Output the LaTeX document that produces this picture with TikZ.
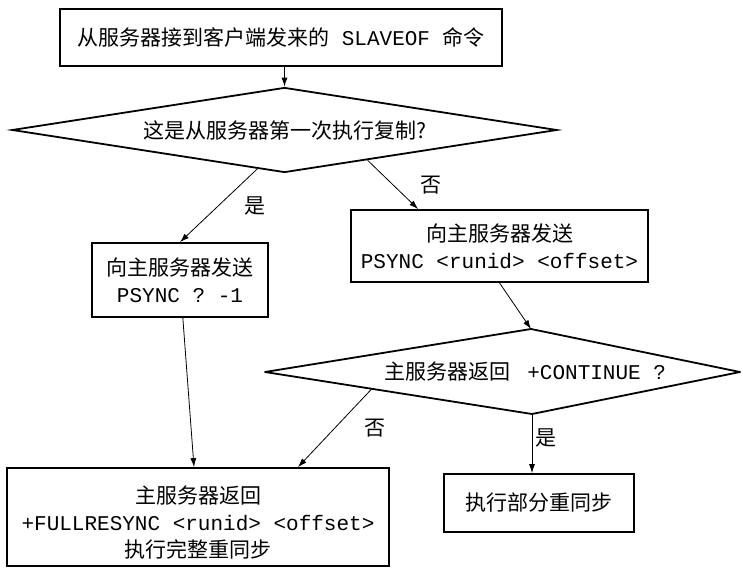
\documentclass[tikz,border=0pt]{standalone}
\usepackage{fontspec}
\setmainfont{Noto Sans CJK SC}
\setmonofont{Liberation Mono}
\usepackage{tikz}
\usetikzlibrary{arrows.meta, shapes.geometric, calc}

\begin{document}
\begin{tikzpicture}[x=1pt, y=-1pt, font=\fontsize{21}{27}\selectfont,
            box/.style = {draw, line width=1.8pt, align=center, inner sep=0pt},
            cond/.style = {draw, diamond, aspect=6.4, line width=1.8pt, inner sep=2pt},
            arr/.style = {-{Latex[length=9pt,width=6pt]}, line width=0.8pt}]
            \useasboundingbox (0,0) rectangle (743,567);

            \node[box, minimum width=442pt, minimum height=57pt] (Slaveof) at (281,37.5) {从服务器接到客户端发来的\texttt{ SLAVEOF }命令};
            \node[cond, minimum width=545pt, minimum height=85pt] (First) at (284.5,130) {这是从服务器第一次执行复制?};

            \node[box, minimum width=176pt, minimum height=74pt] (PsyncFull) at (180,280) {向主服务器发送\\\texttt{PSYNC ? -1}};
            \node[box, minimum width=297pt, minimum height=72pt] (PsyncPart) at (499.5,246) {向主服务器发送\\\texttt{PSYNC <runid> <offset>}};

            % second test is drawn as a kite
            \coordinate (ContW) at (265,372);
            \coordinate (ContN) at (531,329);
            \coordinate (ContE) at (740,372);
            \coordinate (ContS) at (532,414);
            \draw[line width=1.8pt, line join=round] (ContW) -- (ContN) -- (ContE) -- (ContS) -- cycle;
            \node (Continue) at (525,372) {主服务器返回 \texttt{ +CONTINUE ?}};

            \node[box, minimum width=382pt, minimum height=98pt] (FullSync) at (198,517) {\rule{0pt}{28pt}主服务器返回\\\texttt{+FULLRESYNC <runid> <offset>}\\执行完整重同步};
            \node[box, minimum width=190pt, minimum height=58pt] (PartSync) at (539,503) {执行部分重同步};

            \path[arr] (Slaveof.south -| First) edge (First);
            \path[arr] (First.235) edge node[right=22pt] {是} (PsyncFull.north);
            \path[arr] (First.-20) edge node[right=24pt] {否} ([xshift=68pt]PsyncPart.north west);

            \path[arr] (PsyncFull) edge ([xshift=-4pt]FullSync.north);
            \path[arr] (PsyncPart.south) edge (ContN);

            \path[arr] ($(ContW)!0.4!(ContS)$) edge node[right=26pt] {否} ([xshift=100pt]FullSync.north);
            \path[arr] (ContS) edge node[right, pos=0.4] {是} (ContS |- PartSync.north);
        \end{tikzpicture}
\end{document}
